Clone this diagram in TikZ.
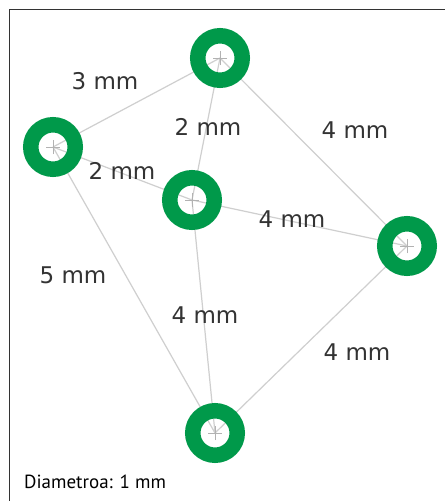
\documentclass[tikz,border=0pt]{standalone}
\usepackage{fontspec}
\setmainfont{DejaVu Sans}
\newfontfamily\capfont{PT Sans}
\definecolor{ringgreen}{HTML}{00994A}
\definecolor{edgegray}{HTML}{CFCFCF}
\definecolor{txtgray}{HTML}{333333}
\begin{document}
\begin{tikzpicture}[x=1pt,y=-1pt,
  ring/.style={circle,draw=ringgreen,line width=15.5pt,minimum size=44.5pt,inner sep=0pt},
  edge/.style={draw=edgegray,line width=1.2pt},
  cross/.style={draw=gray!60,line width=0.5pt},
  lbl/.style={text=txtgray,font=\fontsize{23}{25}\selectfont,inner sep=0pt}]
\useasboundingbox (0,0) rectangle (445,501);
\fill[white] (0,0) rectangle (445,501);
\draw[line width=1pt,black!80] (9,501) -- (9,9) -- (445,9);
% ring positions
\coordinate (T) at (220,58);
\coordinate (L) at (53,147);
\coordinate (M) at (192,200);
\coordinate (R) at (407,246);
\coordinate (B) at (215,433);
% edges
\draw[edge] (T) -- (L);
\draw[edge] (T) -- (M);
\draw[edge] (T) -- (R);
\draw[edge] (L) -- (M);
\draw[edge] (L) -- (B);
\draw[edge] (M) -- (R);
\draw[edge] (M) -- (B);
\draw[edge] (R) -- (B);
% rings
\foreach \c in {T,L,M,R,B}{
  \node[ring] (r\c) at (\c) {};
  \draw[cross] ([xshift=-7pt]\c) -- ([xshift=7pt]\c);
  \draw[cross] ([yshift=-7pt]\c) -- ([yshift=7pt]\c);
}
% labels
\node[lbl] (l1) at (105,81) {3 mm};
\node[lbl] (l2) at (208,127) {2 mm};
\node[lbl] (l3) at (355,130) {4 mm};
\node[lbl] (l4) at (122,171) {2 mm};
\node[lbl] (l5) at (292,219) {4 mm};
\node[lbl] (l6) at (73,275) {5 mm};
\node[lbl] (l7) at (205,315) {4 mm};
\node[lbl] (l8) at (357,352) {4 mm};
\node[anchor=west,inner sep=0pt,text=black,font=\capfont\fontsize{19}{21}\selectfont] (cap) at (24,482) {Diametroa: 1 mm};
\end{tikzpicture}
\end{document}
